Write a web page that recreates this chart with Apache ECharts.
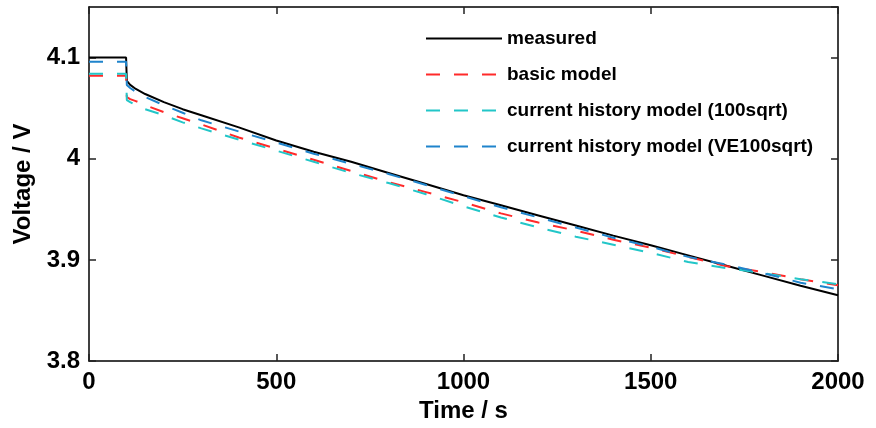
<!DOCTYPE html>
<html><head><meta charset="utf-8">
<script src="https://cdn.jsdelivr.net/npm/echarts@6/dist/echarts.min.js"></script>
<style>html,body{margin:0;padding:0;background:#fff}#c{width:876px;height:428px}</style>
</head><body><div id="c"></div>
<script>
const time = [0, 99, 101, 110, 125, 150, 200, 250, 300, 400, 500, 600, 700, 800, 900, 1000, 1100, 1200, 1300, 1400, 1500, 1600, 1700, 1800, 1900, 2000];
const measured = [4.1, 4.1, 4.077, 4.073, 4.069, 4.064, 4.056, 4.049, 4.043, 4.031, 4.018, 4.007, 3.997, 3.986, 3.975, 3.964, 3.954, 3.944, 3.934, 3.924, 3.9145, 3.9045, 3.8945, 3.8845, 3.8745, 3.865];
const basicModel = [4.082, 4.082, 4.061, 4.059, 4.057, 4.053, 4.046, 4.040, 4.034, 4.021, 4.010, 3.999, 3.988, 3.977, 3.967, 3.957, 3.946, 3.937, 3.929, 3.920, 3.912, 3.903, 3.894, 3.888, 3.881, 3.875];
const history100sqrt = [4.084, 4.084, 4.058, 4.056, 4.053, 4.049, 4.043, 4.036, 4.030, 4.019, 4.008, 3.997, 3.986, 3.976, 3.965, 3.953, 3.942, 3.932, 3.923, 3.915, 3.907, 3.898, 3.892, 3.887, 3.881, 3.876];
const historyVE100sqrt = [4.096, 4.096, 4.073, 4.070, 4.066, 4.061, 4.053, 4.0455, 4.038, 4.027, 4.016, 4.005, 3.995, 3.985, 3.974, 3.963, 3.952, 3.942, 3.932, 3.922, 3.913, 3.903, 3.8955, 3.887, 3.8775, 3.871];
const seriesNames = ['measured', 'basic model', 'current history model (100sqrt)', 'current history model (VE100sqrt)'];
const xTicks = [0, 500, 1000, 1500, 2000];
const yTicks = [3.8, 3.9, 4.0, 4.1];

const FONT = '"Liberation Sans", Arial, sans-serif';
const zip = v => time.map((t, i) => [t, v[i]]);
const chart = echarts.init(document.getElementById('c'), null, {renderer: 'canvas'});
const axisLine = {show: true, onZero: false, lineStyle: {color: '#000', width: 1.5}};
const tick = {show: true, inside: true, length: 7, lineStyle: {color: '#222', width: 1.5}};
function mk(name, data, color, dashed, z) {
  return {name, type: 'line', data: zip(data), symbol: 'none', showSymbol: false, z,
    lineStyle: {color, width: 2, type: dashed ? [14, 14] : 'solid'}, itemStyle: {color}};
}
chart.setOption({
  animation: false,
  backgroundColor: '#fff',
  grid: {left: 89, right: 38, top: 7, bottom: 66, containLabel: false},
  legend: {orient: 'vertical', left: 420, top: 24, itemWidth: 76, itemHeight: 14, itemGap: 17,
    data: seriesNames,
    itemStyle: {opacity: 0},
    textStyle: {fontFamily: FONT, fontWeight: 'bold', fontSize: 19, color: '#000', padding: [0, 0, 0, 0]}},
  xAxis: [
    {type: 'value', min: 0, max: 2000, interval: 500, position: 'bottom',
      name: 'Time / s', nameLocation: 'middle', nameGap: 35,
      nameTextStyle: {fontFamily: FONT, fontWeight: 'bold', fontSize: 24, color: '#000'},
      axisLine, axisTick: tick, splitLine: {show: false},
      axisLabel: {fontFamily: FONT, fontWeight: 'bold', fontSize: 24, color: '#000', margin: 9,
        formatter: v => xTicks.includes(v) ? String(v) : ''}},
    {type: 'value', min: 0, max: 2000, interval: 500, position: 'top',
      axisLine, axisTick: tick, axisLabel: {show: false}, splitLine: {show: false}}
  ],
  yAxis: [
    {type: 'value', min: 3.8, max: 4.15, interval: 0.1, position: 'left',
      name: 'Voltage / V', nameLocation: 'middle', nameGap: 42,
      nameTextStyle: {fontFamily: FONT, fontWeight: 'bold', fontSize: 24, color: '#000'},
      axisLine, axisTick: tick, splitLine: {show: false},
      axisLabel: {fontFamily: FONT, fontWeight: 'bold', fontSize: 24, color: '#000', margin: 9, showMaxLabel: false,
        formatter: v => yTicks.some(t => Math.abs(t - v) < 1e-6) ? String(+v.toFixed(2)) : ''}},
    {type: 'value', min: 3.8, max: 4.15, interval: 0.1, position: 'right',
      axisLine, axisTick: tick, axisLabel: {show: false}, splitLine: {show: false}}
  ],
  series: [
    mk(seriesNames[0], measured, '#000', false, 2),
    mk(seriesNames[1], basicModel, '#ff2a2a', true, 3),
    mk(seriesNames[2], history100sqrt, '#22c6c8', true, 4),
    mk(seriesNames[3], historyVE100sqrt, '#1f84cc', true, 5)
  ]
});
</script></body></html>
